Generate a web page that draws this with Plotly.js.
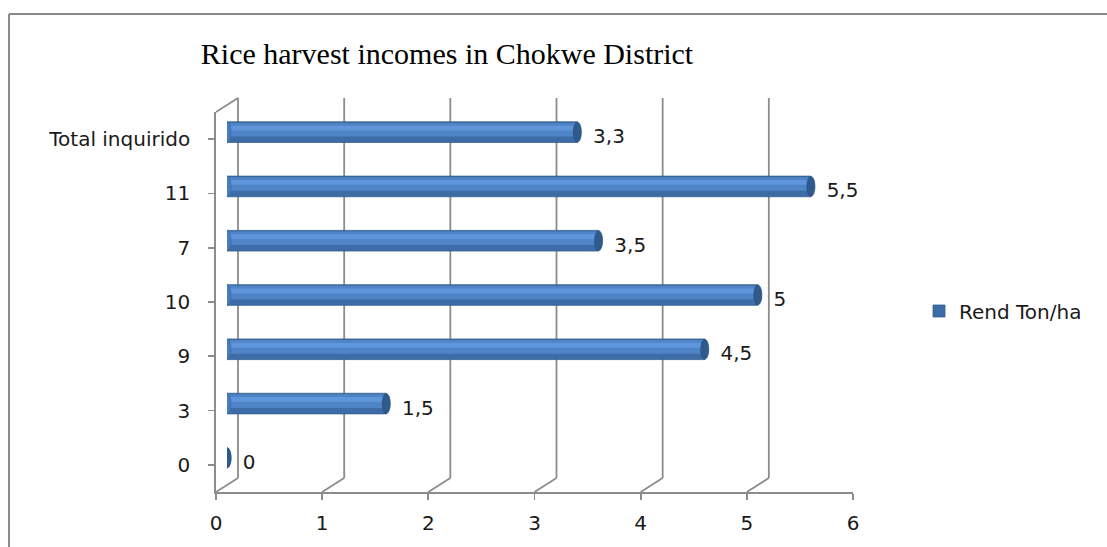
<!DOCTYPE html>
<html>
<head>
<meta charset="utf-8">
<script src="https://cdn.plot.ly/plotly-3.0.1.min.js"></script>
<style>html,body{margin:0;padding:0;background:#fff;}#chart{width:1107px;height:547px;}</style>
</head>
<body>
<div id="chart"></div>
<script>
// ---- data ----
const categories = ["0", "3", "9", "10", "7", "11", "Total inquirido"];
const values = [0, 1.5, 4.5, 5, 3.5, 5.5, 3.3];
const seriesName = "Rend Ton/ha";
const xTicks = [0, 1, 2, 3, 4, 5, 6];
const chartTitle = "Rice harvest incomes in Chokwe District";

const W = 1107, H = 547;
const catIdx = categories.map((c, i) => i);
const labels = values.map(v => "\u00a0\u00a0" + String(v).replace(".", ","));

// front plot box (pixels)
const fx0 = 216, fx1 = 853, fyTop = 112, fyBot = 492;
// depth offsets
const dX = 22, dY = 14;
const bX = 11, bY = 7, tY = 3;

const gridColor = "#8c8c8c";
const tickFont = {family: "DejaVu Sans, sans-serif", size: 20, color: "#1a1a1a"};

const traces = [
  {type: "bar", orientation: "h", x: values, y: catIdx, xaxis: "x2", yaxis: "y2",
   name: seriesName, width: 0.38, offset: -0.19,
   marker: {color: "#3d6ca6", line: {color: "#34608f", width: 0.8}},
   hoverinfo: "skip"},
  {type: "bar", orientation: "h", x: values, y: catIdx, xaxis: "x2", yaxis: "y2",
   width: 0.25, offset: -0.08, showlegend: false,
   marker: {color: "#4f84c6", line: {width: 0}}, hoverinfo: "skip"},
  {type: "bar", orientation: "h", x: values, y: catIdx, xaxis: "x2", yaxis: "y2",
   width: 0.09, offset: 0.03, showlegend: false,
   marker: {color: "#5e96dc", line: {width: 0}}, hoverinfo: "skip"},
  // data labels (transparent bars on a slightly lower axis pair)
  {type: "bar", orientation: "h", x: values, y: catIdx, xaxis: "x3", yaxis: "y3",
   width: 0.38, offset: -0.19, showlegend: false,
   marker: {color: "rgba(0,0,0,0)", line: {width: 0}},
   text: labels, textposition: "outside", cliponaxis: false, constraintext: "none",
   textfont: tickFont, hoverinfo: "skip"}
];

const shapes = [];
// frame
shapes.push({type: "line", xref: "paper", yref: "paper", x0: 9 / W, x1: 1, y0: 1 - 14 / H, y1: 1 - 14 / H,
  line: {color: "#8a8a8a", width: 2}});
shapes.push({type: "line", xref: "paper", yref: "paper", x0: 9 / W, x1: 9 / W, y0: 1 - 14 / H, y1: 0,
  line: {color: "#8a8a8a", width: 2}});
// back wall gridlines and floor diagonals
xTicks.forEach(k => {
  shapes.push({type: "line", layer: "below", xref: "x", yref: "y domain", xsizemode: "pixel", ysizemode: "pixel",
    xanchor: k, yanchor: 0, x0: dX, x1: dX, y0: dY, y1: dY + (fyBot - fyTop),
    line: {color: gridColor, width: 1.8}});
  shapes.push({type: "line", layer: "below", xref: "x", yref: "y domain", xsizemode: "pixel", ysizemode: "pixel",
    xanchor: k, yanchor: 0, x0: 0, x1: dX, y0: 0, y1: dY,
    line: {color: gridColor, width: 1.8}});
});
// left wall top diagonal
shapes.push({type: "line", layer: "below", xref: "x", yref: "y domain", xsizemode: "pixel", ysizemode: "pixel",
  xanchor: 0, yanchor: 1, x0: 0, x1: dX, y0: 0, y1: dY, line: {color: gridColor, width: 1.8}});
// cylinder caps
values.forEach((v, i) => {
  shapes.push({type: "circle", xref: "x2", yref: "y2", xsizemode: "pixel", ysizemode: "pixel",
    xanchor: 0, yanchor: i, x0: -4, x1: 4, y0: -10, y1: 10,
    fillcolor: "#4a7dbd", line: {color: "#3d6ca6", width: 0.8}});
  shapes.push({type: "circle", xref: "x2", yref: "y2", xsizemode: "pixel", ysizemode: "pixel",
    xanchor: v, yanchor: i, x0: -4, x1: 4, y0: -10, y1: 10,
    fillcolor: "#2f5a8c", line: {color: "#2a5182", width: 0.8}});
});

const layout = {
  width: W, height: H,
  margin: {l: 0, r: 0, t: 0, b: 0},
  paper_bgcolor: "#fff", plot_bgcolor: "rgba(0,0,0,0)",
  barmode: "overlay",
  showlegend: true,
  title: {text: chartTitle, font: {family: "Liberation Serif, Times New Roman, serif", size: 30, color: "#000"},
    x: 447 / W, xanchor: "center", y: 1 - 53 / H, yanchor: "middle", xref: "paper", yref: "paper"},
  xaxis: {domain: [fx0 / W, fx1 / W], range: [0, 6], tickvals: xTicks, ticktext: xTicks.map(String),
    showgrid: false, zeroline: false, showline: true, linecolor: gridColor, linewidth: 1.8,
    ticks: "outside", ticklen: 6, tickcolor: gridColor, tickwidth: 1.8, tickfont: tickFont,
    ticklabelstandoff: 6, anchor: "y", fixedrange: true},
  yaxis: {domain: [(H - fyBot) / H, (H - fyTop) / H], range: [-0.5, 6.5], tickvals: catIdx, ticktext: categories,
    tickson: "boundaries", showgrid: false, zeroline: false, showline: true, linecolor: gridColor, linewidth: 1.8,
    ticks: "outside", ticklen: 6, tickcolor: gridColor, tickwidth: 1.8, tickfont: tickFont,
    ticklabelstandoff: 14, anchor: "x", fixedrange: true},
  xaxis2: {domain: [(fx0 + bX) / W, (fx1 + bX) / W], range: [0, 6], visible: false, anchor: "y2", fixedrange: true},
  yaxis2: {domain: [(H - fyBot + bY) / H, (H - fyTop + bY) / H], range: [-0.5, 6.5], visible: false, anchor: "x2", fixedrange: true},
  xaxis3: {domain: [(fx0 + bX) / W, (fx1 + bX) / W], range: [0, 6], visible: false, anchor: "y3", fixedrange: true},
  yaxis3: {domain: [(H - fyBot + tY) / H, (H - fyTop + tY) / H], range: [-0.5, 6.5], visible: false, anchor: "x3", fixedrange: true},
  legend: {x: 919 / W, y: 1 - 311 / H, xanchor: "left", yanchor: "middle", font: tickFont, bgcolor: "rgba(0,0,0,0)"},
  shapes: shapes
};

Plotly.newPlot("chart", traces, layout, {displayModeBar: false, staticPlot: true});
</script>
</body>
</html>
